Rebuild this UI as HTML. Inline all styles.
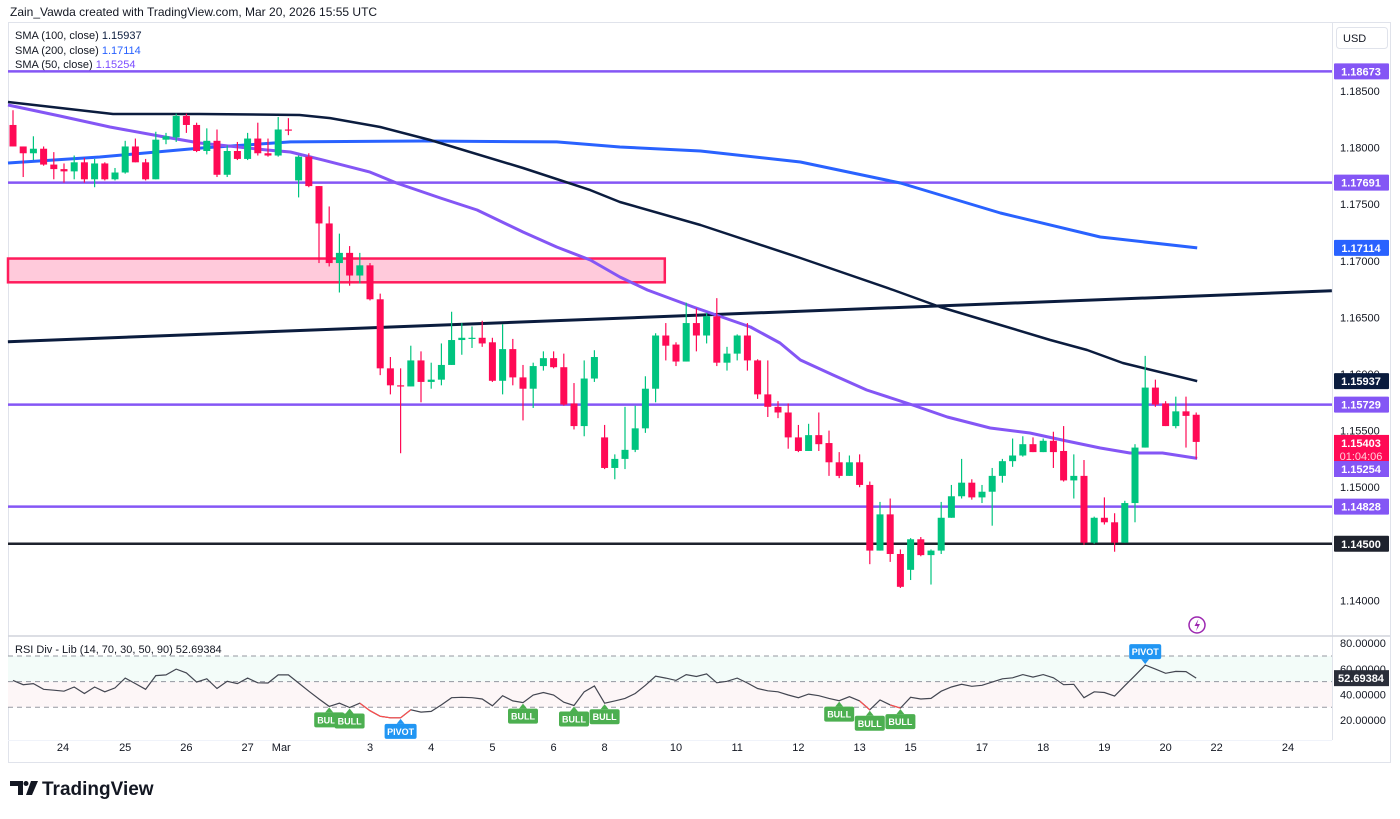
<!DOCTYPE html>
<html><head><meta charset="utf-8">
<style>
html,body{margin:0;padding:0;background:#fff;}
body{width:1400px;height:814px;overflow:hidden;font-family:"Liberation Sans",sans-serif;}
svg text{font-family:"Liberation Sans",sans-serif;}
</style></head>
<body>
<svg id="chart" width="1400" height="814" viewBox="0 0 1400 814" xmlns="http://www.w3.org/2000/svg">
  <text x="10" y="16" font-size="12" fill="#131722">Zain_Vawda created with TradingView.com, Mar 20, 2026 15:55 UTC</text>
  <rect x="8.5" y="22.5" width="1382" height="740" fill="none" stroke="#e0e3eb"/>
  <line x1="1332.5" y1="22" x2="1332.5" y2="740" stroke="#e0e3eb"/>
  <line x1="8" y1="636" x2="1390" y2="636" stroke="#d1d4dc" stroke-width="1.5"/>
  <line x1="8" y1="740.5" x2="1332" y2="740.5" stroke="#f0f3fa"/>
  <g font-size="11">
    <text x="15" y="39" fill="#131722">SMA (100, close) <tspan fill="#0b1c3e">1.15937</tspan></text>
    <text x="15" y="54" fill="#131722">SMA (200, close) <tspan fill="#2962ff">1.17114</tspan></text>
    <text x="15" y="68" fill="#131722">SMA (50, close) <tspan fill="#7c4dff">1.15254</tspan></text>
  </g>
  <g>
    <rect x="1336.5" y="27.5" width="51" height="21" rx="3" fill="#fff" stroke="#e0e3eb"/>
    <text x="1343" y="42" font-size="11" fill="#131722">USD</text>
  </g>
  <g id="grid"></g>
  <g id="zones"></g>
  <g id="mas"></g>
  <g id="candles"></g>
  <g id="rsi"></g>
  <g id="axis"></g>
  <g>
    <circle cx="1197" cy="625" r="8" fill="none" stroke="#9c27b0" stroke-width="1.5"/>
    <path d="M1198.5 619 L1194.5 626 L1197.5 626 L1196 631 L1200 624 L1197 624 Z" fill="#9c27b0"/>
  </g>
  <g>
    <path d="M10 781 h13 v14 h-5 v-9 h-8 z" fill="#131722"/>
    <circle cx="26" cy="783.5" r="2.5" fill="#131722"/>
    <path d="M31 781 h7 l-6 14 h-6 z" fill="#131722"/>
    <text x="42" y="795" font-size="19" font-weight="bold" fill="#131722">TradingView</text>
  </g>
</svg>
<script>
// ---- data ----
const opens=[1.1820,1.1801,1.1795,1.1799,1.1785,1.1781,1.1779,1.1787,1.1772,1.1786,1.1772,1.1778,1.1801,1.1787,1.1772,1.1807,1.1809,1.1828,1.1820,1.1797,1.1806,1.1776,1.1797,1.1790,1.1808,1.1795,1.1793,1.1816,1.1771,1.1792,1.1766,1.1733,1.1698,1.1707,1.1687,1.1696,1.1666,1.1605,1.1590,1.1589,1.1612,1.1593,1.1595,1.1608,1.1630,1.1632,1.1632,1.1628,1.1594,1.1622,1.1597,1.1587,1.1607,1.1614,1.1606,1.1574,1.1554,1.1596,1.1544,1.1517,1.1525,1.1533,1.1552,1.1587,1.1634,1.1626,1.1611,1.1645,1.1634,1.1651,1.1610,1.1618,1.1634,1.1612,1.1582,1.1571,1.1566,1.1544,1.1532,1.1546,1.1539,1.1522,1.1510,1.1522,1.1502,1.1444,1.1476,1.1441,1.1427,1.1454,1.1440,1.1444,1.1473,1.1492,1.1504,1.1491,1.1496,1.1510,1.1523,1.1528,1.1538,1.1531,1.1541,1.1532,1.1506,1.1510,1.1451,1.1473,1.1469,1.1451,1.1486,1.1535,1.1588,1.1574,1.1554,1.1567,1.1564];
const highs=[1.1833,1.1801,1.1810,1.1801,1.1796,1.1786,1.1793,1.1791,1.1790,1.1787,1.1782,1.1806,1.1808,1.1790,1.1814,1.1813,1.1830,1.1830,1.1822,1.1817,1.1816,1.1802,1.1805,1.1813,1.1822,1.1808,1.1827,1.1826,1.1793,1.1795,1.1766,1.1748,1.1724,1.1713,1.1707,1.1698,1.1671,1.1615,1.1605,1.1625,1.1620,1.1610,1.1627,1.1655,1.1645,1.1642,1.1647,1.1632,1.1644,1.1631,1.1608,1.1610,1.1620,1.1620,1.1618,1.1592,1.1612,1.1621,1.1555,1.1529,1.1571,1.1572,1.1598,1.1636,1.1645,1.1628,1.1663,1.1658,1.1654,1.1667,1.1624,1.1635,1.1645,1.1613,1.1612,1.1576,1.1574,1.1555,1.1556,1.1566,1.1550,1.1531,1.1528,1.1529,1.1505,1.1487,1.1490,1.1445,1.1455,1.1456,1.1445,1.1487,1.1502,1.1525,1.1507,1.1502,1.1517,1.1525,1.1543,1.1545,1.1544,1.1543,1.1549,1.1554,1.1529,1.1524,1.1474,1.1491,1.1477,1.1488,1.1538,1.1616,1.1595,1.1576,1.1580,1.1580,1.1566];
const lows=[1.1801,1.1774,1.1789,1.1784,1.1772,1.1769,1.1772,1.1769,1.1765,1.1771,1.1771,1.1777,1.1787,1.1771,1.1772,1.1803,1.1805,1.1813,1.1796,1.1794,1.1774,1.1774,1.1789,1.1789,1.1793,1.1792,1.1792,1.1811,1.1756,1.1765,1.1698,1.1695,1.1672,1.1678,1.1680,1.1665,1.1599,1.1582,1.1530,1.1589,1.1575,1.1587,1.1590,1.1608,1.1617,1.1623,1.1624,1.1593,1.1582,1.1590,1.1559,1.1570,1.1603,1.1605,1.1572,1.1551,1.1545,1.1593,1.1516,1.1507,1.1516,1.1531,1.1548,1.1575,1.1612,1.1607,1.1611,1.1620,1.1627,1.1607,1.1603,1.1612,1.1603,1.1578,1.1562,1.1561,1.1534,1.1531,1.1532,1.1532,1.1510,1.1508,1.1510,1.1500,1.1432,1.1444,1.1434,1.1411,1.1418,1.1439,1.1414,1.1441,1.1473,1.1490,1.1489,1.1486,1.1466,1.1504,1.1518,1.1527,1.1531,1.1531,1.1517,1.1505,1.1490,1.1449,1.1450,1.1467,1.1443,1.1451,1.1469,1.1535,1.1571,1.1554,1.1552,1.1535,1.1525];
const closes=[1.1801,1.1795,1.1799,1.1785,1.1781,1.1779,1.1787,1.1772,1.1786,1.1772,1.1778,1.1801,1.1787,1.1772,1.1807,1.1810,1.1828,1.1820,1.1797,1.1806,1.1776,1.1797,1.1790,1.1808,1.1795,1.1793,1.1816,1.1815,1.1792,1.1766,1.1733,1.1698,1.1707,1.1687,1.1696,1.1666,1.1605,1.1590,1.1589,1.1612,1.1593,1.1595,1.1608,1.1630,1.1632,1.1632,1.1627,1.1594,1.1622,1.1597,1.1587,1.1607,1.1614,1.1606,1.1573,1.1554,1.1596,1.1615,1.1517,1.1525,1.1533,1.1552,1.1587,1.1634,1.1625,1.1611,1.1645,1.1634,1.1651,1.1610,1.1618,1.1634,1.1612,1.1582,1.1571,1.1566,1.1544,1.1532,1.1546,1.1538,1.1522,1.1510,1.1522,1.1502,1.1444,1.1476,1.1441,1.1412,1.1454,1.1440,1.1444,1.1473,1.1492,1.1504,1.1491,1.1496,1.1510,1.1523,1.1528,1.1538,1.1531,1.1541,1.1531,1.1506,1.1510,1.1451,1.1473,1.1469,1.1451,1.1486,1.1535,1.1588,1.1573,1.1554,1.1567,1.1563,1.1540];
const sma50Idx=[-0.5,4.6,9.5,14.4,18.3,24.9,27.2,30.4,35,37.6,41.9,45.5,50,53.3,56.6,59.5,62.2,66.7,72.3,75.2,77.2,80.4,83.7,88.2,91.6,95.8,99.7,103.3,106.6,109.5,112.7,116.1];
const sma50Val=[1.18376,1.18279,1.18182,1.18102,1.18041,1.17979,1.17961,1.1789,1.17784,1.17687,1.17555,1.17449,1.17254,1.17122,1.17007,1.16857,1.16742,1.16592,1.16415,1.16274,1.16124,1.15991,1.15859,1.15726,1.1562,1.15523,1.15479,1.15408,1.15346,1.15302,1.15302,1.15254];
const sma100Idx=[-0.5,9.8,18.3,28.1,31.1,36,40.9,50,56.6,59.5,67.4,77.2,86.3,90.9,96.8,101.7,105.3,108.8,116.1];
const sma100Val=[1.18403,1.18297,1.18297,1.18288,1.18261,1.18182,1.18067,1.1782,1.17625,1.17519,1.17316,1.17025,1.16742,1.16592,1.16433,1.163,1.16212,1.16097,1.15937];
const sma200Idx=[-0.5,8.5,18.3,27.2,40.2,53.3,59.5,67.4,77.2,87,96.8,106.6,116.1];
const sma200Val=[1.17864,1.17917,1.17996,1.1805,1.18058,1.1805,1.18005,1.1797,1.17873,1.17687,1.17422,1.1721,1.17114];
const rsiVals=[50.9,47.6,48.4,44.0,43.3,42.5,45.8,40.7,45.8,42.0,45.1,52.7,48.4,44.0,54.7,55.2,59.8,56.8,49.6,52.2,44.6,50.2,48.4,52.7,49.1,48.9,55.2,55.2,48.9,42.5,36.4,30.6,33.1,29.8,33.1,27.3,22.9,21.7,21.7,28.0,26.2,26.7,31.8,37.4,37.7,37.4,36.4,31.1,39.0,34.9,33.6,39.5,41.5,39.5,33.9,31.3,42.0,46.6,33.1,34.9,36.9,40.7,47.1,54.2,52.7,50.9,55.5,54.0,56.0,49.1,50.2,52.7,48.9,44.6,42.8,42.0,39.5,37.4,40.2,39.0,36.9,35.1,38.2,34.9,28.0,35.6,31.8,29.3,37.7,36.4,36.9,42.5,45.8,47.9,46.3,47.1,49.6,52.2,53.0,55.5,53.5,55.5,53.0,47.6,47.9,37.4,42.0,41.5,38.7,46.8,54.7,62.9,59.8,56.5,58.0,57.8,52.7];
const rsiRedStart=[34,83,86];
const rsiRedEnd=[39,84,87];
const bullIdx=[31,33,50,55,58,81,84,87];
const pivotLowIdx=[38];
const pivotHighIdx=[111];
const levelPrices=[1.18673,1.17691,1.15729,1.14828];
const supportPrice=1.14500;
const zoneTop=1.1702, zoneBottom=1.1681, zoneEndIdx=64;
const trendStart=[-0.5,1.16285], trendEnd=[129.3,1.16735];
const priceTicks=[1.185,1.18,1.175,1.17,1.165,1.16,1.155,1.15,1.14];
const rsiTicks=[80,60,40,20];
const dateLabels=["24","25","26","27","Mar","3","4","5","6","8","10","11","12","13","15","17","18","19","20","22","24"];
const dateIdx=[4.9,11,17,23,26.3,35,41,47,53,58,65,71,77,83,88,95,101,107,113,118,125];

// ---- scales ----
const NS='http://www.w3.org/2000/svg';
function xI(i){return 13+i*10.2;}
function yP(p){return 91+(1.185-p)*11320;}
function yR(v){return 656+(70-v)*1.28;}
function mk(tag,attrs,parent){const e=document.createElementNS(NS,tag);for(const k in attrs)e.setAttribute(k,attrs[k]);parent.appendChild(e);return e;}
const GREEN='#00c47f',RED='#ff0a55',PURPLE='#8456f5';

const zones=document.getElementById('zones');
let z=mk('rect',{x:8,y:yP(zoneTop),width:xI(zoneEndIdx)-8-1,height:yP(zoneBottom)-yP(zoneTop),fill:'#ffcadb',stroke:'#ff1c5c','stroke-width':2.5},zones);


levelPrices.forEach((p,k)=>{
  const l=mk('line',{x1:8,x2:1332,y1:yP(p),y2:yP(p),stroke:PURPLE,'stroke-width':2.5},zones);
  
  
});
let sl=mk('line',{x1:8,x2:1332,y1:yP(supportPrice),y2:yP(supportPrice),stroke:'#1e222d','stroke-width':2.5},zones);


let tl=mk('line',{x1:xI(trendStart[0]),y1:yP(trendStart[1]),x2:xI(trendEnd[0]),y2:yP(trendEnd[1]),stroke:'#0b1c3e','stroke-width':3},zones);



const mas=document.getElementById('mas');
function maPath(idx,val,color,w,name){
  const d=idx.map((i,k)=>(k?'L':'M')+Math.max(8,xI(i)).toFixed(1)+' '+yP(val[k]).toFixed(1)).join(' ');
  const p=mk('path',{d:d,fill:'none',stroke:color,'stroke-width':w,'stroke-linejoin':'round'},mas);
  
  
}
maPath(sma200Idx,sma200Val,'#2962ff',3,'sma200-line');
maPath(sma100Idx,sma100Val,'#0b1c3e',2.5,'sma100-line');
maPath(sma50Idx,sma50Val,PURPLE,3,'sma50-line');

const cg=document.getElementById('candles');
opens.forEach((o,i)=>{
  const c=closes[i],up=c>=o,col=up?GREEN:RED,x=xI(i);
  const g=mk('g',{},cg);
  
  
  mk('line',{x1:x,x2:x,y1:yP(highs[i]),y2:yP(lows[i]),stroke:col,'stroke-width':1.2},g);
  const t=yP(Math.max(o,c)),b=yP(Math.min(o,c));
  mk('rect',{x:x-3.5,y:t,width:7,height:Math.max(1.2,b-t),fill:col},g);
});

const rg=document.getElementById('rsi');
mk('rect',{x:8,y:yR(70),width:1324,height:yR(50)-yR(70),fill:'#f3fcf9'},rg);
mk('rect',{x:8,y:yR(50),width:1324,height:yR(30)-yR(50),fill:'#fdf6f7'},rg);
[70,50,30].forEach(v=>{
  const l=mk('line',{x1:8,x2:1332,y1:yR(v),y2:yR(v),stroke:'#9598a1','stroke-dasharray':'5 4','stroke-width':1},rg);
  
  
});
const rd=rsiVals.map((v,i)=>(i?'L':'M')+xI(i).toFixed(1)+' '+yR(v).toFixed(1)).join(' ');
const rl=mk('path',{d:rd,fill:'none',stroke:'#434651','stroke-width':1.2},rg);


rsiRedStart.forEach((s,k)=>{
  let d='';for(let i=s;i<=rsiRedEnd[k];i++)d+=(i>s?'L':'M')+xI(i).toFixed(1)+' '+yR(rsiVals[i]).toFixed(1);
  const p=mk('path',{d:d,fill:'none',stroke:'#ff4d4d','stroke-width':1.2},rg);
  
  
});
function marker(i,below,label,color,name){
  const x=xI(i),v=rsiVals[i],y=yR(v);
  const g=mk('g',{},rg);
  
  
  const w=label==='PIVOT'?32:30,h=15;
  let top;
  if(below){top=y+6;mk('path',{d:`M${x-4} ${top} L${x} ${top-5} L${x+4} ${top} Z`,fill:color},g);}
  else{top=y-6-h;mk('path',{d:`M${x-4} ${top+h} L${x} ${top+h+5} L${x+4} ${top+h} Z`,fill:color},g);}
  mk('rect',{x:x-w/2,y:top,width:w,height:h,rx:2,fill:color},g);
  const t=mk('text',{x:x,y:top+11,'font-size':9,'font-weight':'bold',fill:'#fff','text-anchor':'middle'},g);
  t.textContent=label;
}
bullIdx.forEach(i=>marker(i,true,'BULL','#4caf50','bull-marker'));
pivotLowIdx.forEach(i=>marker(i,true,'PIVOT','#2196f3','pivot-low-marker'));
pivotHighIdx.forEach(i=>marker(i,false,'PIVOT','#2196f3','pivot-high-marker'));
const rt=mk('text',{x:15,y:653,'font-size':11,fill:'#131722'},rg);


rt.textContent='RSI Div - Lib (14, 70, 30, 50, 90)  52.69384';

const ax=document.getElementById('axis');
priceTicks.forEach(p=>{
  const t=mk('text',{x:1340,y:yP(p)+4,'font-size':11,fill:'#131722'},ax);
  
  
  t.textContent=p.toFixed(5);
});
rsiTicks.forEach(v=>{
  const t=mk('text',{x:1340,y:yR(v)+4,'font-size':11,fill:'#131722'},ax);
  
  
  t.textContent=v.toFixed(5);
});
dateLabels.forEach((s,k)=>{
  const t=mk('text',{x:xI(dateIdx[k]),y:751,'font-size':11,fill:'#131722','text-anchor':'middle'},ax);
  
  
  t.textContent=s;
});
const boxLabels=[["1.18673",1.18673,PURPLE,"#fff"],["1.17691",1.17691,PURPLE,"#fff"],["1.17114",1.17114,'#2962ff',"#fff"],["1.15937",1.15937,'#0b1c3e',"#fff"],["1.15729",1.15729,PURPLE,"#fff"],["1.14828",1.14828,PURPLE,"#fff"],["1.14500",1.145,'#1e222d',"#fff"]];
boxLabels.forEach(b=>{
  const g=mk('g',{},ax);
  
  
  const y=yP(b[1]);
  mk('rect',{x:1334,y:y-8,width:55,height:16,rx:1,fill:b[2]},g);
  const t=mk('text',{x:1361,y:y+4,'font-size':11,'font-weight':'bold',fill:b[3],'text-anchor':'middle'},g);
  t.textContent=b[0];
});
(function(){
  const g=mk('g',{},ax);
  
  
  const y=yP(closes[closes.length-1]);
  mk('rect',{x:1334,y:y-7,width:55,height:29,fill:'#ff0a55'},g);
  let t=mk('text',{x:1361,y:y+5,'font-size':11,'font-weight':'bold',fill:'#fff','text-anchor':'middle'},g);
  t.textContent=closes[closes.length-1].toFixed(5).replace(/0$/,'3');
  t=mk('text',{x:1361,y:y+18,'font-size':11,fill:'#ffd0dc','text-anchor':'middle'},g);
  t.textContent='01:04:06';
  const g2=mk('g',{},ax);
  
  
  mk('rect',{x:1334,y:461,width:55,height:16,fill:PURPLE},g2);
  t=mk('text',{x:1361,y:473,'font-size':11,'font-weight':'bold',fill:'#fff','text-anchor':'middle'},g2);
  t.textContent='1.15254';
  const g3=mk('g',{},ax);
  
  
  const ry=yR(rsiVals[rsiVals.length-1]);
  mk('rect',{x:1334,y:ry-8,width:55,height:16,fill:'#2a2e39'},g3);
  t=mk('text',{x:1361,y:ry+4,'font-size':11,'font-weight':'bold',fill:'#fff','text-anchor':'middle'},g3);
  t.textContent='52.69384';
})();
</script>
</body></html>
